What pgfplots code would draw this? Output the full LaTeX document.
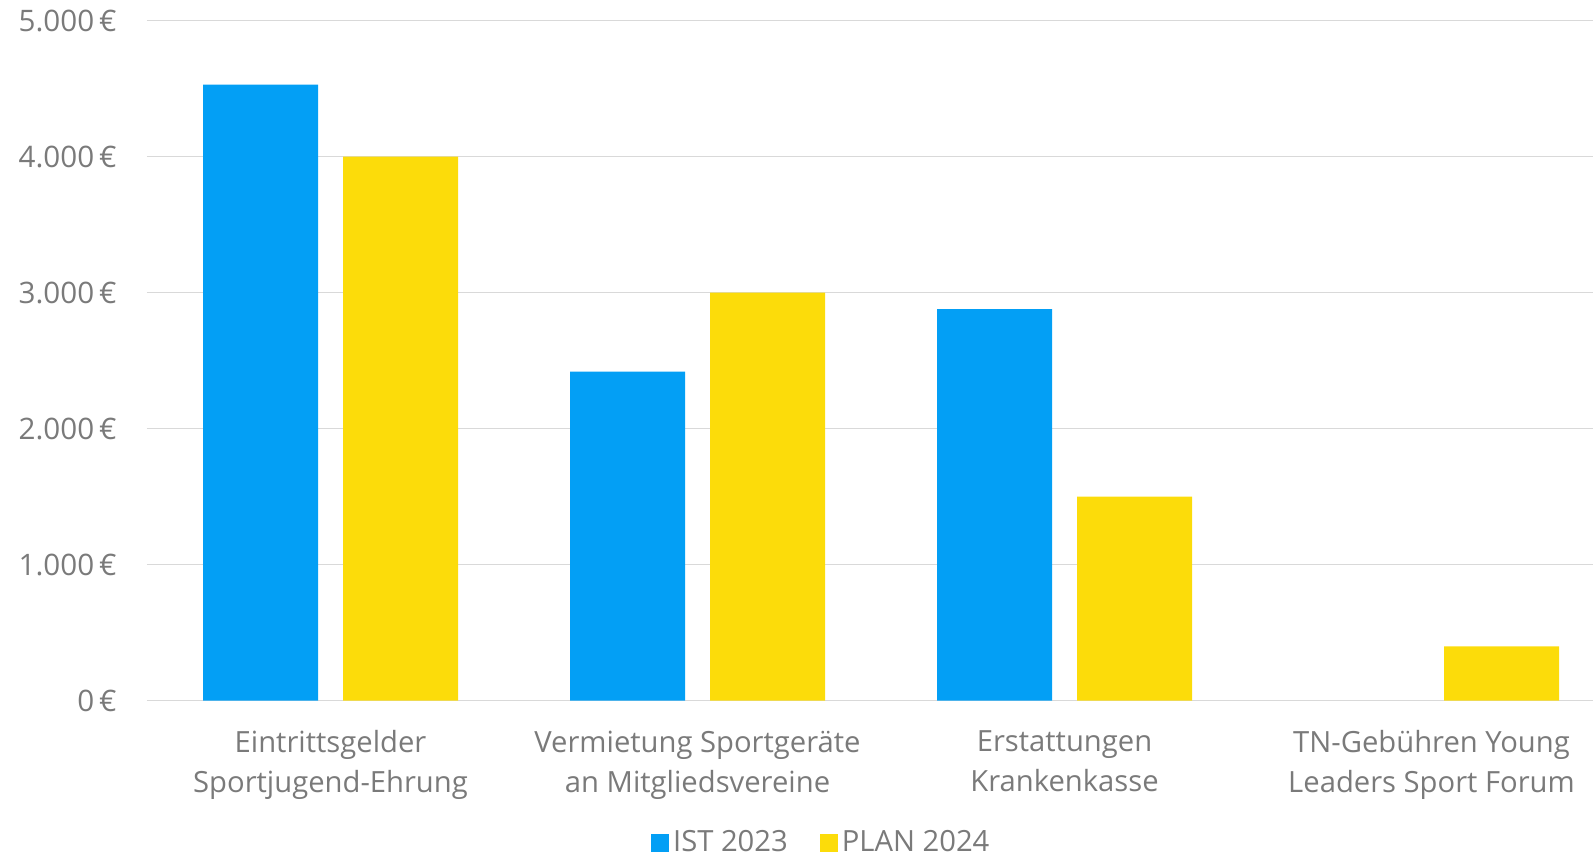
\documentclass[border=0pt]{standalone}
\usepackage{pgfplots}
\pgfplotsset{compat=1.18}
\usepackage{fontspec}
\setmainfont{Open Sans}
\definecolor{istblue}{RGB}{3,159,245}
\definecolor{planyellow}{RGB}{252,220,10}
\definecolor{txtgray}{RGB}{122,122,122}
\definecolor{gridgray}{RGB}{217,217,217}
\begin{document}
\begin{tikzpicture}
\begin{axis}[
  scale only axis,
  width=734pt, height=340pt,
  ybar=12.5pt, bar width=57.5pt,
  xmin=-0.5, xmax=3.5,
  ymin=0, ymax=5000,
  ytick={0,1000,2000,3000,4000,5000},
  xtick={0,1,2,3},
  xticklabels={{Eintrittsgelder\\Sportjugend-Ehrung},{Vermietung Sportgeräte\\an Mitgliedsvereine},{Erstattungen\\Krankenkasse},{TN-Gebühren Young\\Leaders Sport Forum}},
  x tick label style={align=center, font=\fontsize{14.6}{20}\selectfont, text=txtgray, yshift=-11.5pt},
  y tick label style={font=\fontsize{14.8}{17}\selectfont, text=txtgray, inner sep=0pt, xshift=-15pt},
  /pgf/number format/assume math mode=true,
  yticklabel={\pgfmathprintnumber[1000 sep={.}]{\tick}\,€},
  major tick length=0pt,
  ymajorgrids,
  grid style={gridgray, line width=0.75pt},
  axis x line*=bottom,
  axis y line*=left,
  y axis line style={draw=none},
  x axis line style={gridgray, line width=0.75pt, -},
  enlarge y limits=false,
  legend style={at={(0.460,-0.209)}, anchor=center, draw=none, legend columns=2,
    font=\fontsize{14.6}{17}\selectfont, text=txtgray, inner sep=0pt,
    nodes={inner ysep=0.5pt},
    /tikz/every even column/.append style={column sep=14pt}},
  legend image code/.code={\fill[#1] (-4pt,-4.5pt) rectangle (5pt,4.5pt);},
  clip=false,
]
\addplot[fill=istblue, draw=none] coordinates {(0,4530) (1,2420) (2,2880)};
\addplot[fill=planyellow, draw=none] coordinates {(0,4000) (1,3000) (2,1500) (3,400)};
\legend{IST 2023, PLAN 2024}
\coordinate (SW) at (rel axis cs:0,0);
\coordinate (NE) at (rel axis cs:1,1);
\end{axis}
\path[overlay] (SW) ++(-73.5pt,-78pt) coordinate (bl);
\path[overlay] (NE) ++(-11pt,10.35pt) coordinate (tr);
\pgfresetboundingbox
\path[use as bounding box] (bl) rectangle (tr);
\end{tikzpicture}
\end{document}
